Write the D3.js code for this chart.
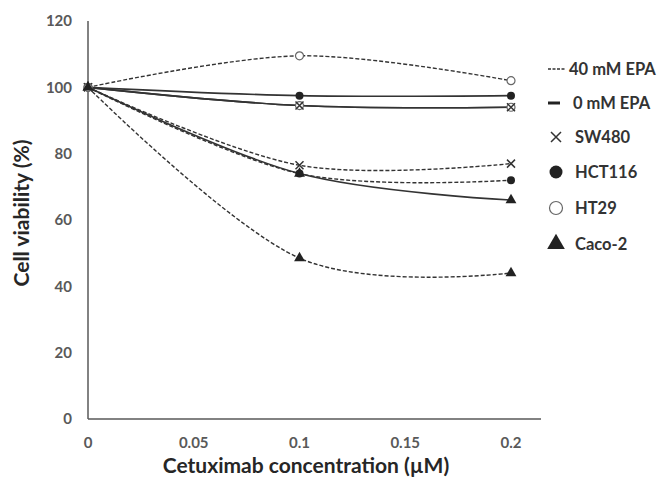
<!DOCTYPE html>
<html>
<head>
<meta charset="utf-8">
<script src="https://cdn.jsdelivr.net/npm/d3@7"></script>
<style>
  body { margin: 0; background: #fff; }
  text { font-family: Lato, "Open Sans", sans-serif; font-weight: bold; }
</style>
</head>
<body>
<svg width="663" height="477"></svg>
<script>
var doses = [0, 0.1, 0.2];
var xTicks = [0, 0.05, 0.1, 0.15, 0.2];
var yTicks = [0, 20, 40, 60, 80, 100, 120];

// 0 mM EPA (solid lines)
var sw480_0 = [100, 94.5, 94];
var hct116_0 = [100, 97.5, 97.5];
var ht29_0 = [100, 94.5, 94];
var caco2_0 = [100, 74, 66];
// 40 mM EPA (dashed lines)
var sw480_40 = [100, 76.5, 77];
var hct116_40 = [100, 74, 72];
var ht29_40 = [100, 109.5, 102];
var caco2_40 = [100, 48.5, 44];

var series = [
  {name: 'HT29', epa: 0, values: ht29_0, mark: 'open'},
  {name: 'SW480', epa: 0, values: sw480_0, mark: 'cross'},
  {name: 'HCT116', epa: 0, values: hct116_0, mark: 'dot'},
  {name: 'Caco-2', epa: 0, values: caco2_0, mark: 'tri'},
  {name: 'SW480', epa: 40, values: sw480_40, mark: 'cross'},
  {name: 'HCT116', epa: 40, values: hct116_40, mark: 'dot'},
  {name: 'HT29', epa: 40, values: ht29_40, mark: 'open'},
  {name: 'Caco-2', epa: 40, values: caco2_40, mark: 'tri'}
];

var svg = d3.select('svg');
var x = d3.scaleLinear().domain([0, 0.2]).range([88, 511]);
var y = d3.scaleLinear().domain([0, 120]).range([419, 21]);

// axes
svg.append('line').attr('x1', 88).attr('x2', 541).attr('y1', y(0)).attr('y2', y(0))
  .attr('stroke', '#595959').attr('stroke-width', 1.5);
svg.append('line').attr('x1', 88).attr('x2', 88).attr('y1', y(0)).attr('y2', y(120))
  .attr('stroke', '#595959').attr('stroke-width', 1.5);

svg.selectAll('.yt').data(yTicks).enter().append('text')
  .attr('x', 72).attr('y', d => y(d)).attr('dy', '0.35em')
  .attr('text-anchor', 'end').attr('font-size', 15).attr('fill', '#595959')
  .text(d => d);
svg.selectAll('.xt').data(xTicks).enter().append('text')
  .attr('x', d => x(d)).attr('y', 448)
  .attr('text-anchor', 'middle').attr('font-size', 15).attr('fill', '#595959')
  .text(d => d);

svg.append('text').attr('x', 306).attr('y', 473).attr('text-anchor', 'middle')
  .attr('font-size', 21).attr('fill', '#262626').text('Cetuximab concentration (µM)');
svg.append('text').attr('transform', 'translate(29,213) rotate(-90)')
  .attr('text-anchor', 'middle').attr('font-size', 21).attr('fill', '#262626')
  .text('Cell viability (%)');

// lines
var line = d3.line()
  .x((d, i) => x(doses[i]))
  .y(d => y(d))
  .curve(d3.curveCardinal.tension(0));

svg.selectAll('.ln').data(series).enter().append('path')
  .attr('d', d => line(d.values))
  .attr('fill', 'none')
  .attr('stroke', '#333')
  .attr('stroke-width', d => d.epa === 0 ? 1.6 : 1.4)
  .attr('stroke-dasharray', d => d.epa === 0 ? null : '4,2');

function drawMark(g, type, size) {
  var s = size || 4;
  if (type === 'dot') {
    g.append('circle').attr('r', s).attr('fill', '#222');
  } else if (type === 'open') {
    g.append('circle').attr('r', s).attr('fill', '#fff').attr('stroke', '#666').attr('stroke-width', 1.2);
  } else if (type === 'tri') {
    g.append('path').attr('d', d3.symbol().type(d3.symbolTriangle).size(s * s * 3.2)).attr('fill', '#222');
  } else {
    g.append('path').attr('d', 'M' + (-s) + ',' + (-s) + 'L' + s + ',' + s + 'M' + (-s) + ',' + s + 'L' + s + ',' + (-s))
      .attr('stroke', '#333').attr('stroke-width', 1.5);
  }
}

series.forEach(function (s) {
  s.values.forEach(function (v, i) {
    var g = svg.append('g').attr('transform', 'translate(' + x(doses[i]) + ',' + y(v) + ')');
    drawMark(g, s.mark, 4);
  });
});

// legend
var legY = [69, 103, 137, 172, 208, 244];
var lg = svg.append('g');
lg.append('line').attr('x1', 548).attr('x2', 565).attr('y1', legY[0]).attr('y2', legY[0])
  .attr('stroke', '#333').attr('stroke-width', 1.3).attr('stroke-dasharray', '3,1.5');
lg.append('text').attr('x', 569).attr('y', legY[0]).attr('dy', '0.35em').attr('font-size', 16.5)
  .attr('fill', '#333').text('40 mM EPA');
lg.append('line').attr('x1', 548).attr('x2', 560).attr('y1', legY[1]).attr('y2', legY[1])
  .attr('stroke', '#222').attr('stroke-width', 3);
lg.append('text').attr('x', 573).attr('y', legY[1]).attr('dy', '0.35em').attr('font-size', 16.5)
  .attr('fill', '#333').text('0 mM EPA');

var legCells = [['cross', 'SW480'], ['dot', 'HCT116'], ['open', 'HT29'], ['tri', 'Caco-2']];
legCells.forEach(function (c, i) {
  var g = lg.append('g').attr('transform', 'translate(556,' + legY[i + 2] + ')');
  drawMark(g, c[0], c[0] === 'cross' ? 5 : 6.5);
  lg.append('text').attr('x', 575).attr('y', legY[i + 2]).attr('dy', '0.35em').attr('font-size', 16.5)
    .attr('fill', '#333').text(c[1]);
});
</script>
</body>
</html>
